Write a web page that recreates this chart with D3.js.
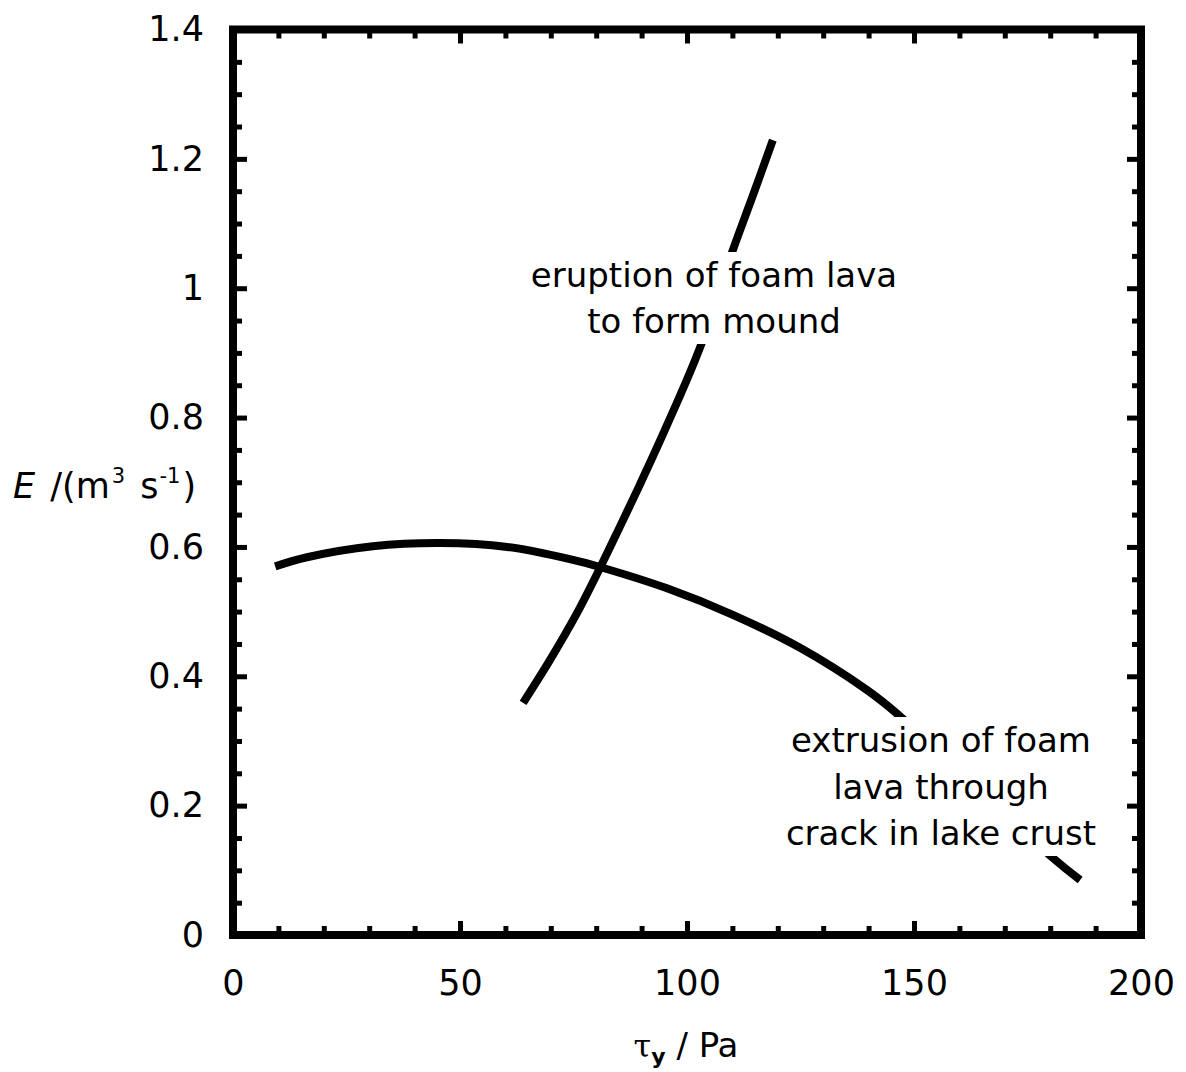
<!DOCTYPE html>
<html>
<head>
<meta charset="utf-8">
<script src="https://cdn.jsdelivr.net/npm/d3@7"></script>
<style>
  html, body { margin: 0; padding: 0; background: #fff; }
  svg { display: block; }
  text { font-family: "DejaVu Sans", Verdana, sans-serif; fill: #000; }
</style>
</head>
<body>
<svg id="chart" width="1186" height="1072"></svg>
<script>
// ---- data ----
const xDomain = [0, 200];
const yDomain = [0, 1.4];
const xMajorTicks = [0, 50, 100, 150, 200];
const xTickLabels = ["0", "50", "100", "150", "200"];
const yMajorTicks = [0, 0.2, 0.4, 0.6, 0.8, 1.0, 1.2, 1.4];
const yTickLabels = ["0", "0.2", "0.4", "0.6", "0.8", "1", "1.2", "1.4"];
const xMinorStep = 10;
const yMinorStep = 0.05;

// extrusion of foam lava through crack in lake crust
const extrusionTau = [9.3, 16.3, 30.8, 45.6, 60.4, 74.9, 80.8, 95.6, 110.1, 124.9, 139.6, 145.8, 180.6, 186.6];
const extrusionE   = [0.570, 0.584, 0.601, 0.606, 0.600, 0.580, 0.569, 0.536, 0.495, 0.444, 0.379, 0.345, 0.119, 0.085];

// eruption of foam lava to form mound
const eruptionTau = [63.9, 69.8, 75.8, 80.8, 85.2, 89.6, 95.2, 102.9, 110.1, 114.5, 118.9];
const eruptionE   = [0.359, 0.425, 0.498, 0.567, 0.631, 0.696, 0.782, 0.909, 1.059, 1.143, 1.229];

const eruptionLabel = ["eruption of foam lava", "to form mound"];
const extrusionLabel = ["extrusion of foam", "lava through", "crack in lake crust"];

// ---- layout ----
const svg = d3.select("#chart");
const pLeft = 233, pRight = 1141, pTop = 29.5, pBottom = 935;
const x = d3.scaleLinear().domain(xDomain).range([pLeft, pRight]);
const y = d3.scaleLinear().domain(yDomain).range([pBottom, pTop]);

const xMinor = d3.range(xDomain[0], xDomain[1] + 1e-9, xMinorStep).filter(v => !xMajorTicks.some(m => Math.abs(m - v) < 1e-9));
const yMinor = d3.range(yDomain[0], yDomain[1] + 1e-9, yMinorStep).map(v => +v.toFixed(3)).filter(v => !yMajorTicks.some(m => Math.abs(m - v) < 1e-9));

const MAJ = 14, MIN = 9;
function styleAxis(g) {
  g.select(".domain").remove();
  g.selectAll(".tick line").attr("stroke", "#000").attr("stroke-width", 5);
  g.selectAll(".tick text").style("font-size", "35px").attr("fill", "#000");
}

// bottom
svg.append("g").attr("transform", `translate(0,${pBottom})`)
  .call(d3.axisBottom(x).tickValues(xMajorTicks).tickSize(-MAJ).tickPadding(35)
    .tickFormat((d, i) => xTickLabels[i])).call(styleAxis);
svg.append("g").attr("transform", `translate(0,${pBottom})`)
  .call(d3.axisBottom(x).tickValues(xMinor).tickSize(-MIN).tickFormat("")).call(styleAxis);
// top
svg.append("g").attr("transform", `translate(0,${pTop})`)
  .call(d3.axisTop(x).tickValues(xMajorTicks).tickSize(-MAJ).tickFormat("")).call(styleAxis);
svg.append("g").attr("transform", `translate(0,${pTop})`)
  .call(d3.axisTop(x).tickValues(xMinor).tickSize(-MIN).tickFormat("")).call(styleAxis);
// left
svg.append("g").attr("transform", `translate(${pLeft},0)`)
  .call(d3.axisLeft(y).tickValues(yMajorTicks).tickSize(-MAJ).tickPadding(29)
    .tickFormat((d, i) => yTickLabels[i])).call(styleAxis);
svg.append("g").attr("transform", `translate(${pLeft},0)`)
  .call(d3.axisLeft(y).tickValues(yMinor).tickSize(-MIN).tickFormat("")).call(styleAxis);
// right
svg.append("g").attr("transform", `translate(${pRight},0)`)
  .call(d3.axisRight(y).tickValues(yMajorTicks).tickSize(-MAJ).tickFormat("")).call(styleAxis);
svg.append("g").attr("transform", `translate(${pRight},0)`)
  .call(d3.axisRight(y).tickValues(yMinor).tickSize(-MIN).tickFormat("")).call(styleAxis);

// frame
svg.append("rect")
  .attr("x", x(xDomain[0])).attr("y", y(yDomain[1]))
  .attr("width", x(xDomain[1]) - x(xDomain[0]))
  .attr("height", y(yDomain[0]) - y(yDomain[1]))
  .attr("fill", "none").attr("stroke", "#000").attr("stroke-width", 8);

// curves
const line = d3.line().x(d => x(d[0])).y(d => y(d[1])).curve(d3.curveCatmullRom.alpha(0.5));
const extrusion = extrusionTau.map((t, i) => [t, extrusionE[i]]);
const eruption = eruptionTau.map((t, i) => [t, eruptionE[i]]);
[extrusion, eruption].forEach(data => {
  svg.append("path").datum(data).attr("d", line)
    .attr("fill", "none").attr("stroke", "#000").attr("stroke-width", 8)
    .attr("stroke-linecap", "butt");
});

// annotation labels with white boxes
function label(lines, cx, firstBaseline, spacing, padX, padY) {
  const g = svg.append("g");
  const rect = g.append("rect").attr("fill", "#fff");
  const t = g.append("text").attr("text-anchor", "middle").style("font-size", "34px");
  lines.forEach((s, i) => {
    t.append("tspan").attr("x", cx).attr("y", firstBaseline + i * spacing).text(s);
  });
  const bb = t.node().getBBox();
  rect.attr("x", bb.x - padX).attr("y", bb.y - padY)
    .attr("width", bb.width + 2 * padX).attr("height", bb.height + 2 * padY);
}
label(eruptionLabel, 714, 287, 46, 6, 3);
label(extrusionLabel, 941, 752, 46.5, 6, 3);

// axis titles
const yt = svg.append("text").attr("x", 13).attr("y", 498).style("font-size", "35px");
yt.append("tspan").style("font-style", "italic").text("E");
yt.append("tspan").attr("dx", 4).text(" /(m");
yt.append("tspan").attr("dy", -15).attr("dx", 2).style("font-size", "21px").text("3");
yt.append("tspan").attr("dy", 15).attr("dx", 4).text(" s");
yt.append("tspan").attr("dy", -15).attr("dx", 1).style("font-size", "21px").text("-1");
yt.append("tspan").attr("dy", 15).attr("dx", 2).text(")");

const xt = svg.append("text").attr("x", 686).attr("y", 1057).attr("text-anchor", "middle").style("font-size", "34px");
xt.append("tspan").style("font-family", "'DejaVu Serif', serif").style("font-size", "32px").text("τ");
xt.append("tspan").attr("dy", 7).style("font-size", "22px").style("font-weight", "bold").text("y");
xt.append("tspan").attr("dy", -7).text(" / Pa");
</script>
</body>
</html>
